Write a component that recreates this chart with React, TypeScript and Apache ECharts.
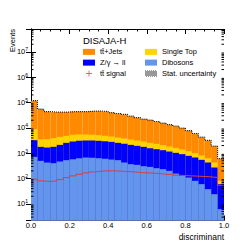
import React, { useEffect, useRef } from "react";
import * as echarts from "echarts";

const nBins = 30;
const binCenters = Array.from({ length: nBins }, (_, i) => ((i + 0.5) / nBins).toFixed(4));

const ttJets = [111000, 51400, 40400, 38100, 37600, 37200, 38700, 38500, 38500, 40700, 40900, 39200, 35500, 32800, 30200, 25500, 22400, 19400, 17800, 15500, 13400, 11700, 10200, 8400, 6600, 5000, 3490, 2570, 1470, 534];
const singleTop = [5590, 1790, 1900, 2130, 2280, 2270, 2410, 2390, 2300, 2140, 2070, 1850, 1750, 1600, 1460, 1340, 1210, 1110, 990, 900, 760, 670, 600, 486, 415, 325, 263, 206, 157, 21];
const zll = [2540, 1280, 1240, 1380, 1660, 2030, 2310, 2440, 2490, 2510, 2440, 2380, 2240, 2030, 1910, 1760, 1600, 1470, 1280, 1180, 1080, 960, 873, 787, 676, 594, 486, 391, 248, 54];
const dibosons = [716, 498, 428, 403, 469, 530, 580, 635, 675, 655, 635, 597, 562, 530, 428, 368, 347, 307, 289, 256, 234, 201, 157, 127, 109, 81, 60, 38, 24, 6.2];
const signal = [94, 81, 76, 81, 91, 109, 127, 148, 167, 183, 195, 201, 201, 195, 189, 183, 173, 167, 163, 157, 148, 144, 135, 131, 127, 124, 120, 116, 109, 54];

const yMin = 2.2;
const yMax = 8e7;

const FONT = "'Liberation Sans', Arial, Helvetica, sans-serif";

const lg = (v: number) => Math.log10(v);

function stepData(vals: number[]) {
  const pts: number[][] = vals.map((v, i) => [i / nBins, lg(v)]);
  pts.push([1, lg(vals[vals.length - 1])]);
  return pts;
}

function checkerPath(w: number, h: number) {
  let d = "path://";
  for (let y = 0; y < h; y++) {
    for (let x = 0; x < w; x++) {
      if ((x + y) % 2 === 0) d += `M${x} ${y}h1v1h-1z`;
    }
  }
  return d;
}

export default function App() {
  const ref = useRef<HTMLDivElement>(null);
  useEffect(() => {
    if (!ref.current) return;
    const chart = echarts.init(ref.current, null, { renderer: "svg" });
    const c1 = dibosons.slice();
    const c2 = c1.map((v, i) => v + zll[i]);
    const c3 = c2.map((v, i) => v + singleTop[i]);
    const c4 = c3.map((v, i) => v + ttJets[i]);

    const minorVals: number[] = [];
    for (let e = 0; e <= 7; e++) {
      for (let k = 2; k <= 9; k++) {
        const v = k * Math.pow(10, e);
        if (v > yMin && v < yMax) minorVals.push(lg(v));
      }
    }

    const axisLineStyle = { color: "#000", width: 1 };
    const legendText = { fontFamily: FONT, fontSize: 7.5, color: "#000", lineHeight: 9.75 };
    const barCommon = { type: "bar", xAxisIndex: 0, yAxisIndex: 0, barWidth: "100%", barGap: "-100%" };
    const option: any = {
      animation: false,
      textStyle: { fontFamily: FONT },
      grid: { left: 31, right: 25, top: 29, bottom: 28.5, containLabel: false },
      title: {
        text: "DISAJA-H",
        left: 83,
        top: 35,
        padding: 0,
        textStyle: { fontFamily: FONT, fontSize: 9.5, fontWeight: "normal", color: "#000" },
      },
      legend: [
        {
          left: 83,
          top: 47,
          padding: 0,
          orient: "vertical",
          itemWidth: 12,
          itemHeight: 6,
          itemGap: 1,
          textStyle: legendText,
          selectedMode: false,
          data: [
            { name: "tt\u0304+Jets", icon: "rect" },
            { name: "Z/\u03b3 \u2192 ll", icon: "rect" },
            { name: "tt\u0304 signal", icon: "path://M0 4.4h10v1.2h-10z M4.4 0h1.2v10h-1.2z", itemStyle: { color: "#e03c3c" } },
          ],
        },
        {
          left: 145,
          top: 47,
          padding: 0,
          orient: "vertical",
          itemWidth: 12,
          itemHeight: 6,
          itemGap: 1,
          textStyle: legendText,
          selectedMode: false,
          data: [
            { name: "Single Top", icon: "rect" },
            { name: "Dibosons", icon: "rect" },
            { name: "Stat. uncertainty", icon: checkerPath(12, 6), itemStyle: { color: "#333" } },
          ],
        },
      ],
      xAxis: [
        { type: "category", data: binCenters, show: false, boundaryGap: true },
        {
          type: "value",
          min: 0,
          max: 1,
          interval: 0.2,
          position: "bottom",
          axisLine: { show: true, lineStyle: axisLineStyle },
          axisTick: { show: true, inside: true, length: 5, lineStyle: axisLineStyle },
          minorTick: { show: true, splitNumber: 4, length: 2.5, lineStyle: { color: "#000" } },
          splitLine: { show: false },
          axisLabel: {
            fontFamily: FONT,
            fontSize: 7.5,
            color: "#000",
            margin: 1,
            formatter: (v: number) => v.toFixed(1),
            showMinLabel: true,
            showMaxLabel: true,
          },
        },
        {
          type: "value",
          min: 0,
          max: 1,
          interval: 0.2,
          position: "top",
          axisLine: { show: true, lineStyle: axisLineStyle },
          axisTick: { show: true, inside: true, length: 5, lineStyle: axisLineStyle },
          minorTick: { show: true, splitNumber: 4, length: 2.5, lineStyle: { color: "#000" } },
          splitLine: { show: false },
          axisLabel: { show: false },
        },
      ],
      yAxis: [
        {
          type: "value",
          min: lg(yMin),
          max: lg(yMax),
          splitNumber: 8,
          position: "left",
          axisLine: { show: true, lineStyle: axisLineStyle },
          axisTick: { show: true, inside: true, length: 5, lineStyle: axisLineStyle },
          splitLine: { show: false },
          axisLabel: {
            margin: 3,
            showMinLabel: false,
            showMaxLabel: false,
            formatter: (v: number) => (Math.abs(v - Math.round(v)) < 1e-6 ? `{b|10}{s|${Math.round(v)}}` : ""),
            rich: {
              b: { fontFamily: FONT, fontSize: 7.5, color: "#000", lineHeight: 10 },
              s: { fontFamily: FONT, fontSize: 5, color: "#000", verticalAlign: "top", lineHeight: 10, padding: [0, 0, 5, 0] },
            },
          },
        },
        {
          type: "value",
          min: lg(yMin),
          max: lg(yMax),
          splitNumber: 8,
          position: "right",
          axisLine: { show: true, lineStyle: axisLineStyle },
          axisTick: { show: true, inside: true, length: 5, lineStyle: axisLineStyle },
          splitLine: { show: false },
          axisLabel: { show: false },
        },
      ],
      series: [
        { ...barCommon, name: "tt\u0304+Jets", data: c4.map(lg), itemStyle: { color: "#ff8a00" } },
        { ...barCommon, name: "Single Top", data: c3.map(lg), itemStyle: { color: "#ffd500" } },
        { ...barCommon, name: "Z/\u03b3 \u2192 ll", data: c2.map(lg), itemStyle: { color: "#0000ff" } },
        { ...barCommon, name: "Dibosons", data: c1.map(lg), itemStyle: { color: "#6495ed" } },
        {
          name: "Stat. uncertainty",
          type: "line",
          xAxisIndex: 1,
          yAxisIndex: 0,
          step: "end",
          symbol: "none",
          data: stepData(c4),
          itemStyle: { color: "#333" },
          lineStyle: { color: "#222", width: 1.2, type: [1, 1] },
          z: 5,
        },
        {
          name: "tt\u0304 signal",
          type: "line",
          xAxisIndex: 1,
          yAxisIndex: 0,
          step: "end",
          symbol: "none",
          data: stepData(signal),
          itemStyle: { color: "#e03c3c" },
          lineStyle: { color: "#e03c3c", width: 1 },
          z: 6,
        },
        {
          name: "minorTicks",
          type: "custom",
          xAxisIndex: 1,
          yAxisIndex: 0,
          silent: true,
          z: 7,
          data: minorVals.map((v) => [0, v]),
          renderItem: (params: any, api: any) => {
            const v = api.value(1);
            const pl = api.coord([0, v]);
            const pr = api.coord([1, v]);
            return {
              type: "group",
              children: [
                { type: "line", shape: { x1: pl[0], y1: pl[1], x2: pl[0] + 2.5, y2: pl[1] }, style: { stroke: "#000", lineWidth: 1 } },
                { type: "line", shape: { x1: pr[0], y1: pr[1], x2: pr[0] - 2.5, y2: pr[1] }, style: { stroke: "#000", lineWidth: 1 } },
              ],
            };
          },
        },
      ],
      graphic: [
        {
          type: "text",
          x: 12.5,
          y: 29,
          rotation: Math.PI / 2,
          style: { text: "Events", fontFamily: FONT, fontSize: 7.5, fill: "#000", align: "right", verticalAlign: "middle" },
        },
        {
          type: "text",
          x: 224,
          y: 236.5,
          style: { text: "discriminant", fontFamily: FONT, fontSize: 8.5, fill: "#000", align: "right", verticalAlign: "middle" },
        },
      ],
    };
    chart.setOption(option);
    return () => chart.dispose();
  }, []);
  return <div ref={ref} style={{ position: "fixed", left: 0, top: 0, width: 249, height: 249, background: "#fff" }} />;
}
